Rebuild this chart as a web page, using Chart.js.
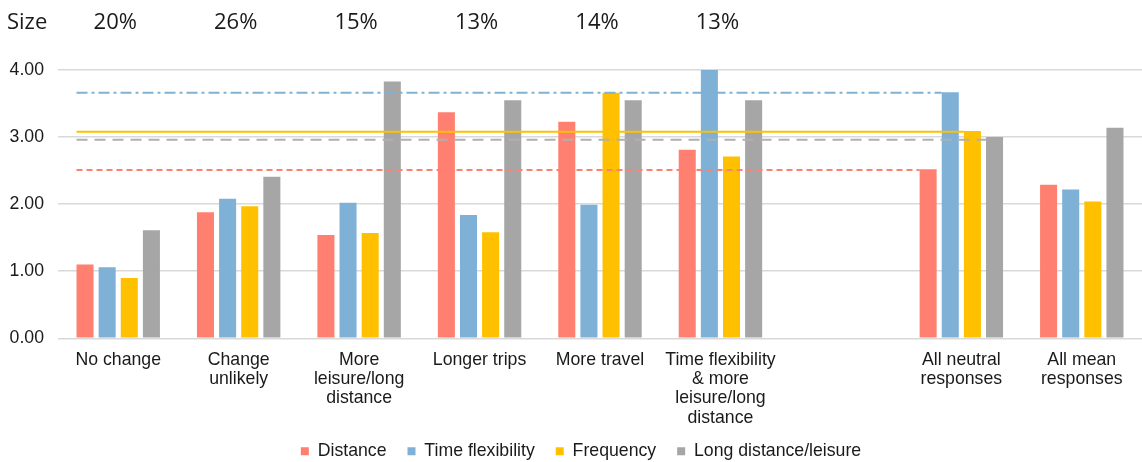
<!DOCTYPE html>
<html>
<head>
<meta charset="utf-8">
<script src="https://cdn.jsdelivr.net/npm/chart.js@4.4.1/dist/chart.umd.min.js"></script>
<style>
  html, body { margin: 0; padding: 0; background: #ffffff; }
  #wrap { width: 1142px; height: 462px; position: relative; }
</style>
</head>
<body>
<div id="wrap"><canvas id="chart"></canvas></div>
<script>
// Travel-change segments (the 7th slot is an intentional spacer)
const categories = [
  ["No change"],
  ["Change", "unlikely"],
  ["More", "leisure/long", "distance"],
  ["Longer trips"],
  ["More travel"],
  ["Time flexibility", "& more", "leisure/long", "distance"],
  [""],
  ["All neutral", "responses"],
  ["All mean", "responses"]
];
const groupSizes = ["20%", "26%", "15%", "13%", "14%", "13%", "", "", ""];
const seriesNames = ["Distance", "Time flexibility", "Frequency", "Long distance/leisure"];

// Mean scores per segment
const distance        = [1.10, 1.88, 1.54, 3.37, 3.23, 2.81, null, 2.52, 2.29];
const timeFlexibility = [1.06, 2.08, 2.02, 1.84, 1.99, 4.00, null, 3.67, 2.22];
const frequency       = [0.90, 1.97, 1.57, 1.58, 3.66, 2.71, null, 3.09, 2.04];
const longDistance    = [1.61, 2.41, 3.83, 3.55, 3.55, 3.55, null, 3.00, 3.14];

// Neutral-response reference levels, one per series
const neutralLevels = [2.51, 3.66, 3.08, 2.96];
const neutralIndex = 7;

const yTicks = [0, 1, 2, 3, 4];

const colors = ["#FF8070", "#7FB1D6", "#FFC000", "#A6A6A6"];
const lineColors = ["#FF8070", "#7FB1D6", "#FFC000", "#B0B0B0"];
const lineDashes = [[6, 4], [11, 4, 3, 4], [], [11, 7]];
const labelFont = "'Liberation Sans', Arial, sans-serif";

// Horizontal reference lines from the first bar to each series' neutral bar
const referenceLines = {
  id: "referenceLines",
  afterDatasetsDraw(chart) {
    const ctx = chart.ctx;
    const y = chart.scales.y;
    const first = chart.getDatasetMeta(0).data[0];
    const x0 = first.x - first.width / 2;
    neutralLevels.forEach((v, i) => {
      const bar = chart.getDatasetMeta(i).data[neutralIndex];
      const x1 = bar.x - bar.width / 2;
      const py = y.getPixelForValue(v);
      ctx.save();
      ctx.strokeStyle = lineColors[i];
      ctx.lineWidth = 2;
      ctx.setLineDash(lineDashes[i]);
      ctx.beginPath();
      ctx.moveTo(x0, py);
      ctx.lineTo(x1, py);
      ctx.stroke();
      ctx.restore();
    });
  }
};

// Segment size row above the plot
const sizeRow = {
  id: "sizeRow",
  afterDraw(chart) {
    const ctx = chart.ctx;
    const x = chart.scales.x;
    ctx.save();
    ctx.fillStyle = "#1a1a1a";
    ctx.font = "22px 'Open Sans'";
    ctx.textBaseline = "middle";
    ctx.textAlign = "left";
    ctx.fillText("Size", 7, 23);
    ctx.textAlign = "center";
    groupSizes.forEach((s, i) => {
      if (s) ctx.fillText(s, x.getPixelForValue(i) - 3, 23);
    });
    ctx.restore();
  }
};

// Tuck the legend row up under the category labels and nudge it right
const legendShift = {
  id: "legendShift",
  afterLayout(chart) {
    const lg = chart.legend;
    if (lg) {
      lg.left += 10; lg.right += 10;
      lg.top -= 6; lg.bottom -= 6;
    }
  }
};

const seriesData = [distance, timeFlexibility, frequency, longDistance];

new Chart(document.getElementById("chart"), {
  type: "bar",
  data: {
    labels: categories,
    datasets: seriesNames.map((name, i) => ({
      label: name,
      data: seriesData[i],
      backgroundColor: colors[i],
      borderWidth: 0,
      categoryPercentage: 0.735,
      barPercentage: 0.77
    }))
  },
  options: {
    responsive: true,
    maintainAspectRatio: false,
    animation: false,
    devicePixelRatio: 1,
    layout: { padding: { top: 70, right: 0, bottom: -14, left: 0 } },
    plugins: {
      legend: {
        position: "bottom",
        labels: {
          boxWidth: 8,
          boxHeight: 8,
          padding: 21,
          color: "#1a1a1a",
          font: { family: labelFont, size: 17.7 }
        }
      },
      tooltip: { enabled: false }
    },
    scales: {
      x: {
        grid: { display: false, drawTicks: false },
        border: { display: false },
        afterFit: (s) => { s.height = 89; },
        ticks: {
          color: "#1a1a1a",
          padding: 12,
          maxRotation: 0,
          autoSkip: false,
          font: { family: labelFont, size: 17.7, lineHeight: 1.09 }
        }
      },
      y: {
        min: 0,
        max: 4,
        border: { display: false },
        grid: { color: "#D9D9D9", lineWidth: 1.5, drawTicks: false },
        afterBuildTicks: (s) => { s.ticks = yTicks.map(v => ({ value: v })); },
        afterFit: (s) => { s.width = 58; },
        ticks: {
          color: "#1a1a1a",
          padding: 14,
          callback: (v) => Number(v).toFixed(2),
          font: { family: labelFont, size: 17.7 }
        }
      }
    }
  },
  plugins: [referenceLines, sizeRow, legendShift]
});
</script>
</body>
</html>
